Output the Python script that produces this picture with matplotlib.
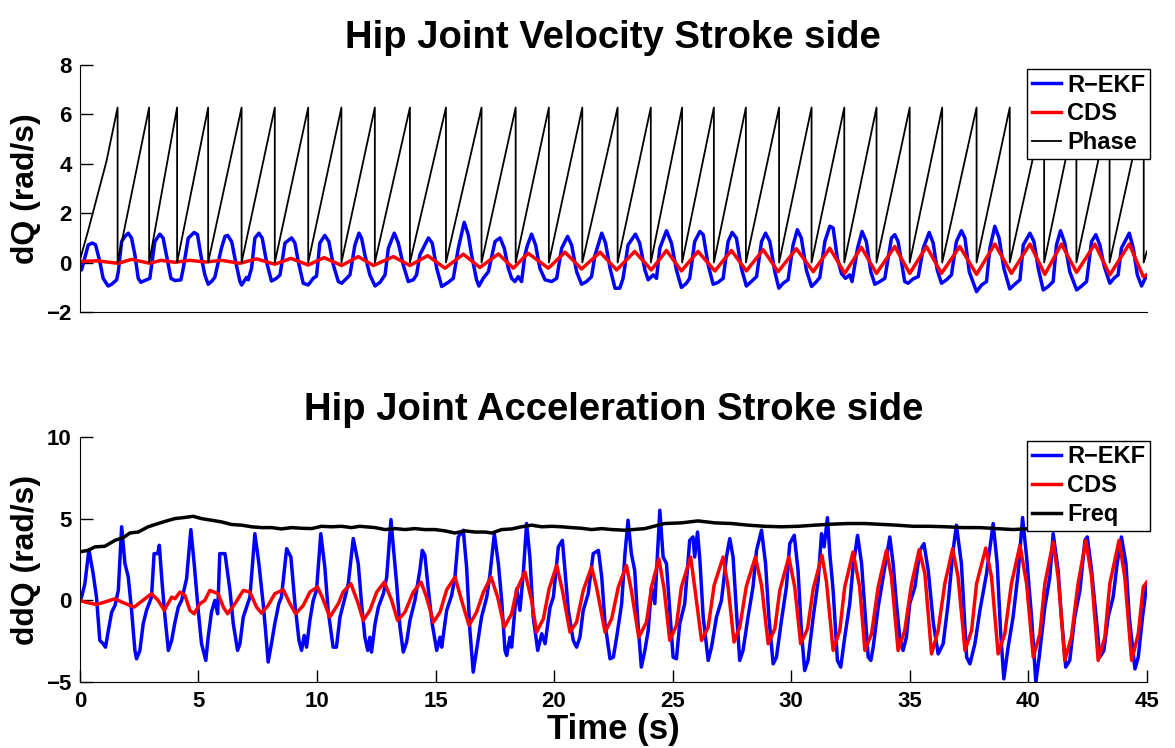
import numpy as np
import matplotlib
matplotlib.use("Agg")
from matplotlib import pyplot as plt

plt.rcParams['font.family'] = ['Liberation Sans', 'DejaVu Sans']
plt.rcParams['font.weight'] = 'bold'

# ---- top plot: velocity (rad/s) ----
vel_ekf_t = [0, 0.07, 0.35, 0.52, 0.66, 0.84, 0.98, 1.19, 1.34, 1.55, 1.62,
             1.76, 1.90, 2.04, 2.18, 2.32, 2.46, 2.57, 2.81, 2.95,
             3.16, 3.37, 3.51, 3.66, 3.84, 4.01, 4.26, 4.36,
             4.57, 4.82, 4.96, 5.10, 5.27, 5.41, 5.55, 5.69,
             5.97, 6.12, 6.23, 6.40, 6.54, 6.75, 6.82, 7.03, 7.10, 7.24,
             7.38, 7.55, 7.69, 7.87, 8.08, 8.29, 8.44,
             8.65, 8.93, 9.07, 9.21, 9.42, 9.63, 9.84, 9.98,
             10.12, 10.33, 10.50, 10.69, 10.90, 11.04, 11.25, 11.39,
             11.60, 11.77, 11.88, 12.02, 12.23, 12.45, 12.66, 12.87,
             13.01, 13.26, 13.43, 13.64, 13.85, 14.06, 14.20,
             14.34, 14.70, 14.86, 15.05, 15.26, 15.54, 15.75,
             15.96, 16.21, 16.38, 16.52, 16.73, 16.83, 17.01, 17.23,
             17.51, 17.72, 17.90, 18.07, 18.21, 18.35, 18.49, 18.63,
             18.77, 18.88, 19.05, 19.22, 19.40, 19.62, 19.90, 20.11,
             20.32, 20.57, 20.74, 20.95, 21.16, 21.37, 21.58,
             21.73, 22.01, 22.17, 22.36, 22.57, 22.77, 22.91,
             23.12, 23.43, 23.61, 23.83, 23.97, 24.18, 24.32,
             24.46, 24.74, 24.95, 25.16, 25.37, 25.58, 25.72,
             25.93, 26.15, 26.29, 26.50, 26.71, 26.92, 27.13,
             27.34, 27.51, 27.69, 27.90, 28.11, 28.32, 28.54,
             28.75, 28.92, 29.10, 29.31, 29.48, 29.66, 29.87,
             30.08, 30.26, 30.43, 30.64, 30.86, 31.07, 31.21,
             31.42, 31.63, 31.77, 31.95, 32.12, 32.29, 32.47, 32.57,
             32.80, 32.99, 33.17, 33.36, 33.53, 33.74, 33.95,
             34.23, 34.37, 34.51, 34.65, 34.79, 34.93, 35.15, 35.36,
             35.57, 35.82, 35.99, 36.16, 36.34, 36.55, 36.76,
             36.97, 37.18, 37.33, 37.51, 37.82, 38.03, 38.24,
             38.38, 38.59, 38.77, 38.97, 39.22, 39.43, 39.65,
             39.79, 40.07, 40.24, 40.42, 40.63, 40.84, 41.05,
             41.19, 41.36, 41.54, 41.75, 42.04, 42.25, 42.46,
             42.67, 42.85, 43.02, 43.19, 43.44, 43.65, 43.79,
             43.93, 44.26, 44.43, 44.60, 44.78, 45.0]
vel_ekf_v = [-0.3, -0.3, 0.71, 0.79, 0.72, 0.04, -0.64, -0.95, -0.88, -0.7, -0.37,
             0.85, 1.06, 1.19, 0.99, 0.31, -0.64, -0.8, -0.7, -0.64,
             0.85, 1.15, 0.99, 0.24, -0.64, -0.73, -0.7, -0.23,
             0.99, 1.22, 1.13, 0.31, -0.5, -0.88, -0.77, -0.6,
             0.58, 1.06, 1.1, 0.85, 0.17, -0.77, -0.91, -0.6, -0.7, -0.23,
             0.99, 1.19, 0.99, 0.04, -0.75, -0.64, -0.5,
             0.79, 1.0, 0.79, 0.04, -0.84, -0.91, -0.64, -0.55,
             0.79, 1.1, 0.85, -0.1, -0.77, -0.84, -0.64, -0.5,
             0.71, 1.19, 0.99, 0.31, -0.5, -0.95, -0.8, -0.5,
             0.58, 1.19, 0.79, -0.1, -0.77, -0.7, -0.5,
             0.31, 1.0, 0.79, -0.23, -0.97, -0.8, -0.64,
             0.58, 1.63, 1.13, 0.31, -0.7, -0.95, -0.64, -0.37,
             0.85, 1.0, 0.58, -0.23, -0.64, -0.77, -0.57, -0.77,
             0.31, 0.71, 1.15, 0.71, -0.23, -0.7, -0.77, -0.64,
             0.58, 1.06, 0.71, -0.37, -0.88, -0.77, -0.57,
             0.31, 1.19, 0.79, -0.23, -1.04, -1.04, -0.64,
             0.71, 1.15, 0.79, -0.3, -0.7, -0.5, -0.64,
             0.58, 1.29, 0.79, -0.3, -1.01, -0.84, -0.64,
             0.85, 1.26, 1.13, -0.1, -0.88, -0.8, -0.64,
             0.85, 1.22, 0.99, -0.23, -0.95, -0.77, -0.57,
             0.85, 1.19, 0.85, -0.37, -1.04, -0.84, -0.7,
             0.71, 1.33, 0.99, -0.3, -0.97, -0.77, -0.6,
             0.85, 1.47, 1.4, 0.17, -0.44, -0.64, -0.5, -0.77,
             0.58, 1.26, 0.85, -0.37, -0.88, -0.77, -0.64,
             0.99, 1.13, 0.85, 0.04, -0.77, -0.84, -0.66, -0.57,
             0.58, 1.22, 0.79, -0.3, -0.84, -0.7, -0.5,
             0.85, 1.29, 0.99, -0.37, -1.18, -0.91, -0.77,
             0.58, 1.47, 0.99, -0.23, -1.07, -0.88, -0.7,
             0.71, 1.19, 0.85, -0.23, -1.11, -0.97, -0.77,
             0.71, 1.29, 0.79, -0.37, -1.11, -0.95, -0.77,
             0.85, 1.13, 0.71, -0.1, -0.84, -0.6, -0.5,
             0.58, 1.19, 0.58, -0.5, -0.95, -0.5]

vel_cds_t = [0, 0.7, 1.62, 2.18, 2.95, 3.42, 4.0, 4.64, 5.3, 5.97, 6.75, 7.45,
             8.22, 8.9, 9.63, 10.3, 11.04, 11.74, 12.38, 13.22, 13.92, 14.67,
             15.4, 16.17, 16.87, 17.65, 18.28, 18.9, 19.76, 20.46, 21.16, 21.94,
             22.64, 23.4, 24.1, 24.74, 25.37, 26.07, 26.78, 27.48, 28.11, 28.82,
             29.45, 30.22, 30.93, 31.63, 32.26, 32.96, 33.6, 34.37, 35.0, 35.71,
             36.34, 37.11, 37.82, 38.59, 39.29, 40.07, 40.7, 41.4, 42.04, 42.81,
             43.44, 44.26, 44.85, 45.0]
vel_cds_v = [0.04, 0.07, -0.03, 0.13, -0.03, 0.09, 0.01, 0.09, 0.02, 0.09, -0.03, 0.15,
             -0.07, 0.17, -0.1, 0.2, -0.12, 0.24, -0.12, 0.24, -0.12, 0.28,
             -0.23, 0.34, -0.2, 0.35, -0.23, 0.38, -0.23, 0.42, -0.26, 0.42,
             -0.3, 0.45, -0.3, 0.49, -0.34, 0.45, -0.34, 0.49, -0.34, 0.52,
             -0.37, 0.56, -0.37, 0.58, -0.44, 0.62, -0.44, 0.65, -0.44, 0.65,
             -0.44, 0.65, -0.48, 0.75, -0.44, 0.75, -0.48, 0.75, -0.4, 0.75,
             -0.5, 0.75, -0.57, -0.5]

# phase: first ramp, then wrap-around times where it drops from 2*pi to 0
phase_start_t = [0, 0.35, 1.12]
phase_start_v = [0.1, 1.3, 4.1]
phase_resets = [1.59, 2.92, 4.10, 5.41, 6.82, 8.22, 9.63, 11.03, 12.44, 13.92,
                15.44, 16.94, 18.38, 19.78, 21.19, 22.68, 24.08, 25.40, 26.74,
                28.09, 29.49, 30.86, 32.24, 33.60, 35.0, 36.37, 37.82, 39.22,
                40.67, 42.03, 43.43, 44.87]
phase_top = 6.28
phase_end = (45.0, 0.45)

# ---- bottom plot: acceleration ----
acc_ekf_t = [0, 0.07, 0.21, 0.38, 0.56, 0.70, 0.84, 0.98, 1.08, 1.20, 1.34, 1.48, 1.62,
             1.76, 1.90, 2.04, 2.18, 2.32, 2.39, 2.53, 2.67, 2.81, 3.02,
             3.13, 3.28, 3.35, 3.47, 3.59, 3.73, 3.87, 4.01, 4.15, 4.29,
             4.50, 4.68, 4.82, 4.99, 5.13, 5.31, 5.41, 5.55, 5.69, 5.81,
             5.90, 6.12, 6.33, 6.47, 6.65, 6.75, 6.89, 7.03, 7.17,
             7.38, 7.55, 7.73, 7.83, 7.94, 8.08, 8.22, 8.39, 8.50,
             8.72, 8.90, 9.07, 9.24, 9.35, 9.46, 9.56, 9.70, 9.84, 9.98,
             10.16, 10.33, 10.47, 10.68, 10.82, 10.97, 11.15, 11.32,
             11.53, 11.74, 11.88, 12.02, 12.14, 12.23, 12.30, 12.45, 12.59, 12.80, 12.94,
             13.12, 13.22, 13.36, 13.50, 13.64, 13.78, 13.92, 14.13, 14.34,
             14.44, 14.55, 14.70, 14.86, 15.05, 15.19, 15.26, 15.47, 15.68, 15.82,
             15.96, 16.17, 16.31, 16.45, 16.59, 16.73, 16.94, 17.16, 17.30,
             17.48, 17.65, 17.79, 17.93, 18.00, 18.14, 18.21, 18.42, 18.56, 18.70,
             18.84, 18.98, 19.12, 19.31, 19.48, 19.62, 19.83, 19.97,
             20.18, 20.35, 20.46, 20.60, 20.81, 20.95, 21.09, 21.23, 21.44, 21.65,
             21.87, 22.01, 22.15, 22.36, 22.50, 22.64, 22.85, 22.99,
             23.12, 23.26, 23.40, 23.54, 23.68, 23.83, 23.97, 24.11, 24.25,
             24.46, 24.60, 24.74, 24.88, 25.02, 25.16, 25.30, 25.51,
             25.72, 25.86, 25.93, 26.05, 26.15, 26.29, 26.50, 26.64, 26.85, 27.06, 27.27,
             27.41, 27.55, 27.69, 27.83, 27.97, 28.18, 28.39, 28.54,
             28.75, 28.92, 29.06, 29.24, 29.38, 29.59, 29.80, 29.94,
             30.13, 30.29, 30.43, 30.57, 30.71, 30.93, 31.14, 31.28, 31.39,
             31.53, 31.63, 31.77, 31.95, 32.09, 32.26, 32.47, 32.61,
             32.80, 32.97, 33.11, 33.25, 33.36, 33.46, 33.67, 33.88,
             34.16, 34.30, 34.44, 34.58, 34.72, 34.86, 35.00, 35.22, 35.43,
             35.60, 35.78, 36.00, 36.20, 36.41, 36.62, 36.83,
             36.97, 37.18, 37.40, 37.54, 37.75, 37.96, 38.24,
             38.52, 38.69, 38.83, 38.97, 39.15, 39.36, 39.57,
             39.76, 39.93, 40.14, 40.32, 40.46, 40.70, 40.91,
             41.05, 41.26, 41.40, 41.58, 41.75, 41.96, 42.18, 42.39,
             42.49, 42.67, 42.89, 43.02, 43.19, 43.37, 43.58, 43.75,
             43.93, 44.12, 44.26, 44.50, 44.64, 44.82, 45.0]
acc_ekf_v = [0, 0.2, 1.02, 3.1, 1.63, 0.2, -2.45, -2.65, -2.86, -1.84, -0.72, -0.31, 0.61,
             4.5, 2.25, 1.43, -0.61, -3.06, -3.57, -3.06, -1.43, -0.61, 0.2,
             2.86, 2.86, 3.37, 1.02, -1.02, -3.06, -2.45, -1.33, -0.41, 0,
             1.33, 4.33, 2.25, -0.61, -2.65, -3.67, -2.25, -0.72, 0, -0.82,
             2.86, 2.86, 0.61, -1.43, -3.06, -2.65, -1.02, -0.41, 0.2,
             4.08, 2.25, -0.2, -1.84, -3.77, -2.65, -1.43, -0.2, 0.2,
             3.16, 2.65, -0.2, -2.45, -3.06, -2.14, -2.86, -1.23, 0, 0.61,
             4.08, 2.04, -0.61, -2.86, -2.86, -1.02, 0, 1.02,
             3.78, 2.25, -0.2, -2.25, -3.06, -2.25, -3.16, -1.43, -0.41, 0.41, 1.43,
             4.94, 3.27, 1.02, -1.64, -3.16, -2.55, -1.23, 0, 1.84,
             3.06, 2.76, 0.61, -1.43, -3.06, -2.25, -2.86, -0.61, 0.31, 1.43,
             3.88, 4.29, 2.04, -1.84, -4.39, -3.06, -1.02, 0.2, 1.63,
             4.08, 2.25, 0, -3.06, -3.37, -2.25, -2.86, 0.71, -0.61, 1.63,
             4.7, 2.65, -1.02, -3.06, -2.04, -2.65, -0.41, 0.2,
             3.27, 3.67, 1.84, -0.61, -2.45, -2.86, -2.25, -0.61, 0.41, 2.86,
             3.06, 1.43, -1.43, -3.57, -3.47, -2.25, -0.2, 2.86,
             4.9, 2.86, 1.84, -1.43, -4.08, -3.06, -1.84, 0.82, -0.2,
             5.51, 2.65, 2.25, -0.61, -3.47, -3.57, -1.43, -0.2,
             3.67, 3.88, 2.65, 4.18, 2.45, -1.02, -3.67, -2.86, -1.02, 0, 2.65,
             3.78, 2.65, -0.61, -3.67, -3.06, -1.02, 0.82, 3.06,
             4.29, 2.25, -1.02, -3.88, -3.47, -1.23, 0.82, 3.47,
             3.98, 1.84, -1.84, -4.29, -3.67, -1.02, 1.23, 4.08, 3.27,
             5.06, 2.86, 0.61, -3.67, -4.08, -2.25, -0.2, 2.04,
             3.98, 2.25, -0.61, -3.47, -3.67, -2.86, -0.41, 1.43,
             3.88, 2.25, -0.2, -2.25, -3.06, -2.25, -0.2, 0.82, 3.06,
             3.47, 1.84, -1.43, -3.27, -2.65, -0.2, 3.06,
             4.6, 2.25, -3.47, -3.88, -2.65, -0.61, 1.63,
             4.7, 2.25, -1.84, -4.8, -2.86, -1.02, 1.63,
             5.06, 2.65, -1.02, -5.0, -3.47, -0.41, 1.43,
             4.08, 1.84, -1.02, -4.08, -3.67, -1.02, 0.61, 3.67,
             3.88, 1.84, -1.43, -3.47, -3.06, -1.02, 0.2, 2.25,
             3.88, 2.25, -1.02, -4.19, -3.47, -1.02, 1.02]

acc_cds_t = [0, 0.21, 0.70, 1.05, 1.48, 1.76, 2.29, 2.74, 3.02, 3.30, 3.56, 3.87, 4.01,
             4.22, 4.43, 4.64, 4.82, 5.06, 5.27, 5.48, 5.83, 6.05, 6.23, 6.54,
             6.89, 7.17, 7.45, 7.66, 7.94, 8.22, 8.58, 8.86, 9.10, 9.42, 9.70,
             10.02, 10.22, 10.54, 10.90, 11.10, 11.43, 11.74, 11.95, 12.23, 12.52,
             12.84, 13.15, 13.40, 13.71, 14.06, 14.39, 14.62, 14.91, 15.19, 15.47,
             15.82, 16.10, 16.41, 16.73, 17.02, 17.34, 17.62, 17.90, 18.21, 18.42,
             18.77, 19.05, 19.26, 19.55, 19.79, 20.11, 20.35, 20.67, 20.95, 21.23,
             21.58, 21.79, 22.15, 22.43, 22.71, 23.05, 23.26, 23.57, 23.90, 24.11,
             24.42, 24.64, 24.88, 25.16, 25.37, 25.76, 25.93, 26.22, 26.50, 26.75,
             27.13, 27.34, 27.59, 27.83, 28.11, 28.49, 28.75, 29.03, 29.31, 29.52,
             29.90, 30.15, 30.40, 30.69, 30.93, 31.30, 31.49, 31.77, 32.05, 32.26,
             32.61, 32.89, 33.11, 33.39, 33.67, 34.02, 34.23, 34.51, 34.79, 35.08,
             35.40, 35.64, 35.92, 36.20, 36.48, 36.81, 37.04, 37.33, 37.61, 37.82,
             38.21, 38.45, 38.73, 39.01, 39.29, 39.65, 39.93, 40.21, 40.49, 40.70,
             41.05, 41.26, 41.54, 41.82, 42.10, 42.43, 42.67, 42.95, 43.23, 43.44,
             43.83, 44.07, 44.36, 44.64, 44.85, 45.0]
acc_cds_v = [0, -0.1, -0.25, -0.1, 0.1, -0.1, -0.41, 0.1, 0.41, 0, -0.61, 0.2, 0.1,
             0.51, 0.31, -0.61, -0.82, -0.2, 0, 0.61, 0.41, -0.41, -0.82, -0.2,
             0.61, 0.51, -0.41, -0.78, -0.31, 0.41, 0.65, -0.2, -0.82, -0.31, 0.51,
             0.82, 0.2, -1.02, -0.2, 0.51, 1.02, -0.2, -1.23, -0.61, 0.51,
             1.12, 0, -1.23, -0.72, 0.51, 1.12, 0.2, -1.33, -0.72, 0.65,
             1.43, 0, -1.53, -0.72, 0.51, 1.43, 0.2, -1.64, -0.82, 0.61,
             1.74, 0, -1.94, -1.12, 0.71, 2.14, 0.61, -1.94, -1.33, 0.61,
             2.04, 0.82, -1.94, -1.12, 0.82, 2.14, 0.61, -2.25, -1.33, 0.82,
             2.55, 0.71, -2.45, -1.53, 0.82, 2.65, 0.82, -2.45, -1.64, 0.92,
             2.65, 0.82, -2.55, -1.64, 0.86, 2.65, 0.92, -2.65, -1.74, 0.61,
             2.65, 0.82, -2.65, -1.74, 0.71, 2.76, 1.12, -3.06, -1.84, 0.82,
             2.96, 0.82, -3.06, -2.04, 0.82, 3.06, 1.43, -3.06, -1.84, 1.02,
             3.1, 1.63, -3.27, -1.84, 1.02, 3.16, 1.43, -3.06, -1.84, 1.02,
             3.2, 1.43, -3.27, -2.04, 1.02, 3.37, 1.02, -3.47, -2.04, 1.02,
             3.57, 1.43, -3.67, -2.25, 1.02, 3.67, 1.43, -3.67, -2.25, 1.02,
             3.67, 1.43, -3.67, -2.04, 0.82, 1.12]

freq_t = [0, 0.35, 0.63, 1.05, 1.48, 1.83, 2.11, 2.46, 2.88, 3.3, 3.66, 4.0, 4.36,
          4.78, 5.13, 5.55, 5.97, 6.4, 6.82, 7.24, 7.66, 8.08, 8.5, 8.93, 9.35,
          9.77, 10.19, 10.61, 11.04, 11.46, 11.8, 12.45, 12.87, 13.29, 13.71,
          14.13, 14.55, 14.98, 15.4, 15.82, 16.24, 16.66, 17.09, 17.37, 17.79,
          18.21, 18.63, 19.05, 19.48, 19.9, 20.32, 20.74, 21.16, 21.58, 22.01,
          22.43, 22.99, 23.83, 24.67, 25.37, 26.07, 26.78, 27.48, 28.18, 28.89,
          29.59, 30.29, 31.0, 31.7, 32.4, 33.1, 34.44, 35.15, 35.85, 36.55,
          37.25, 37.96, 38.66, 39.36, 40.07, 42.0, 45.0]
freq_v = [2.97, 3.06, 3.27, 3.31, 3.67, 3.84, 4.12, 4.18, 4.5, 4.7, 4.86, 5.0, 5.06,
          5.14, 5.0, 4.9, 4.8, 4.64, 4.6, 4.5, 4.45, 4.45, 4.37, 4.45, 4.41,
          4.39, 4.53, 4.5, 4.53, 4.45, 4.53, 4.45, 4.33, 4.39, 4.33,
          4.39, 4.33, 4.33, 4.25, 4.12, 4.25, 4.18, 4.18, 4.12, 4.33,
          4.37, 4.5, 4.6, 4.5, 4.53, 4.5, 4.45, 4.41, 4.33, 4.39,
          4.33, 4.29, 4.39, 4.7, 4.74, 4.86, 4.74, 4.7, 4.6, 4.53,
          4.5, 4.53, 4.6, 4.66, 4.7, 4.7, 4.6, 4.53, 4.53, 4.5,
          4.45, 4.45, 4.39, 4.33, 4.39, 4.35, 4.35]

# build the phase sawtooth vertices from the wrap times
phase_t = list(phase_start_t)
phase_v = list(phase_start_v)
for r in phase_resets:
    phase_t += [r, r]
    phase_v += [phase_top, 0]
phase_t.append(phase_end[0])
phase_v.append(phase_end[1])

fig = plt.figure(figsize=(11.75, 7.48), dpi=100)
ax1 = fig.add_axes([0.068, 0.583, 0.908, 0.330])
ax2 = fig.add_axes([0.068, 0.088, 0.908, 0.328])

ax1.plot(vel_ekf_t, vel_ekf_v, color='blue', lw=2.5, label='R\u2212EKF')
ax1.plot(vel_cds_t, vel_cds_v, color='red', lw=2.5, label='CDS')
ax1.plot(phase_t, phase_v, color='black', lw=1.3, label='Phase')

ax2.plot(acc_ekf_t, acc_ekf_v, color='blue', lw=2.5, label='R\u2212EKF')
ax2.plot(acc_cds_t, acc_cds_v, color='red', lw=2.5, label='CDS')
ax2.plot(freq_t, freq_v, color='black', lw=2.5, label='Freq')

ax1.set_xlim(0, 45)
ax1.set_ylim(-2, 8)
ax1.set_yticks([-2, 0, 2, 4, 6, 8])
ax1.set_xticks([])
ax2.set_xlim(0, 45)
ax2.set_ylim(-5, 10)
ax2.set_yticks([-5, 0, 5, 10])
ax2.set_xticks(range(0, 50, 5))

for ax in (ax1, ax2):
    ax.spines['top'].set_visible(False)
    ax.spines['right'].set_visible(False)
    ax.tick_params(direction='in', length=9, width=1, labelsize=16)
    ax.tick_params(axis='y', pad=6)
    ax.tick_params(axis='x', pad=6)
    for lab in ax.get_xticklabels() + ax.get_yticklabels():
        lab.set_fontweight('bold')
    leg = ax.legend(loc='upper right', bbox_to_anchor=(1.003, 0.985),
                    fontsize=17, handlelength=1.25, handletextpad=0.25,
                    labelspacing=0.25, borderpad=0.2, borderaxespad=0,
                    fancybox=False, framealpha=1)
    leg.get_frame().set_edgecolor('black')
    for t in leg.get_texts():
        t.set_fontweight('bold')

ax1.set_title('Hip Joint Velocity Stroke side', fontsize=27.5, fontweight='bold', pad=12)
ax2.set_title('Hip Joint Acceleration Stroke side', fontsize=27.5, fontweight='bold', pad=12)
ax1.set_ylabel('dQ (rad/s)', fontsize=23, fontweight='bold', labelpad=4)
ax2.set_ylabel('ddQ (rad/s)', fontsize=23, fontweight='bold', labelpad=4)
ax2.set_xlabel('Time (s)', fontsize=25, fontweight='bold', labelpad=1)

fig.savefig('out.png', dpi=100)
